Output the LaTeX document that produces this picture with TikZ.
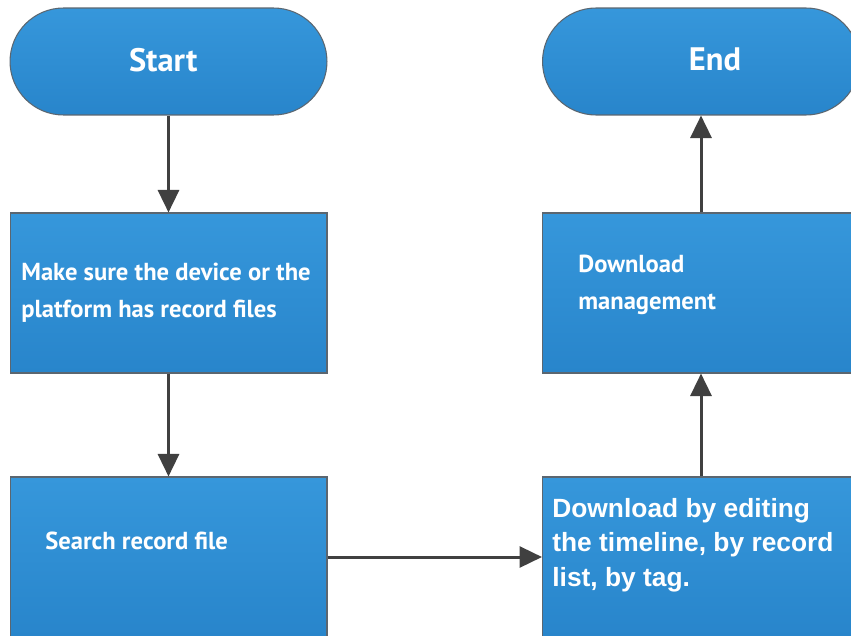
\documentclass[tikz,border=0pt]{standalone}
\usepackage{fontspec}
\setmainfont{PT Sans}
\newfontfamily\arialfont{Liberation Sans}
\usetikzlibrary{arrows.meta}

\definecolor{boxtop}{HTML}{3697DB}
\definecolor{boxbot}{HTML}{2885CB}
\definecolor{boxline}{HTML}{5B6670}
\definecolor{arrowgray}{HTML}{404040}

\tikzset{
    flowbox/.style={draw=boxline, line width=0.6pt, top color=boxtop, bottom color=boxbot,
        minimum width=6.34cm, minimum height=3.2cm, inner sep=0pt, text=white},
    endpoint/.style={flowbox, rounded corners=1.07cm, minimum height=2.14cm,
        font=\bfseries\fontsize{18.5}{22}\selectfont},
    boxtext/.style={text=white, anchor=west, align=left, inner sep=0pt,
        font=\bfseries\fontsize{14}{21}\selectfont},
    flowarrow/.style={draw=arrowgray, line width=1.7pt,
        -{Triangle[length=0.45cm, width=0.42cm]}}
}

\begin{document}
\begin{tikzpicture}[x=0.02cm, y=-0.02cm]
        \useasboundingbox (0,0) rectangle (851,635);
        \clip (0,0) rectangle (851,635);

        % Terminals
        \node[endpoint] (start) at (168.5, 61.5) {\hspace*{-6pt}\raisebox{2pt}{Start}};
        \node[endpoint] (end) at (701, 61.5) {\hspace*{16pt}\raisebox{3pt}{End}};

        % Steps
        \node[flowbox] (check) at (168.5, 293) {};
        \node[flowbox] (search) at (168.5, 557) {};
        \node[flowbox] (manage) at (701, 293) {};
        \node[flowbox] (download) at (701, 557) {};

        % Texts
        \node[boxtext] (checktext) at (21, 293) {Make sure the device or the\\platform has record files};
        \node[boxtext] (searchtext) at (45, 541) {Search record file};
        \node[boxtext] (managetext) at (578, 285) {Download\\management};
        \node[boxtext, font=\arialfont\bfseries\fontsize{15}{19.5}\selectfont] (downloadtext) at (552, 545)
            {Download by editing\\the timeline, by record\\list, by tag.};

        % Connections
        \draw[flowarrow] (start) -- (check);
        \draw[flowarrow] (check) -- (search);
        \draw[flowarrow] (search) -- (download);
        \draw[flowarrow] (download) -- (manage);
        \draw[flowarrow] (manage) -- (end);
    \end{tikzpicture}
\end{document}
